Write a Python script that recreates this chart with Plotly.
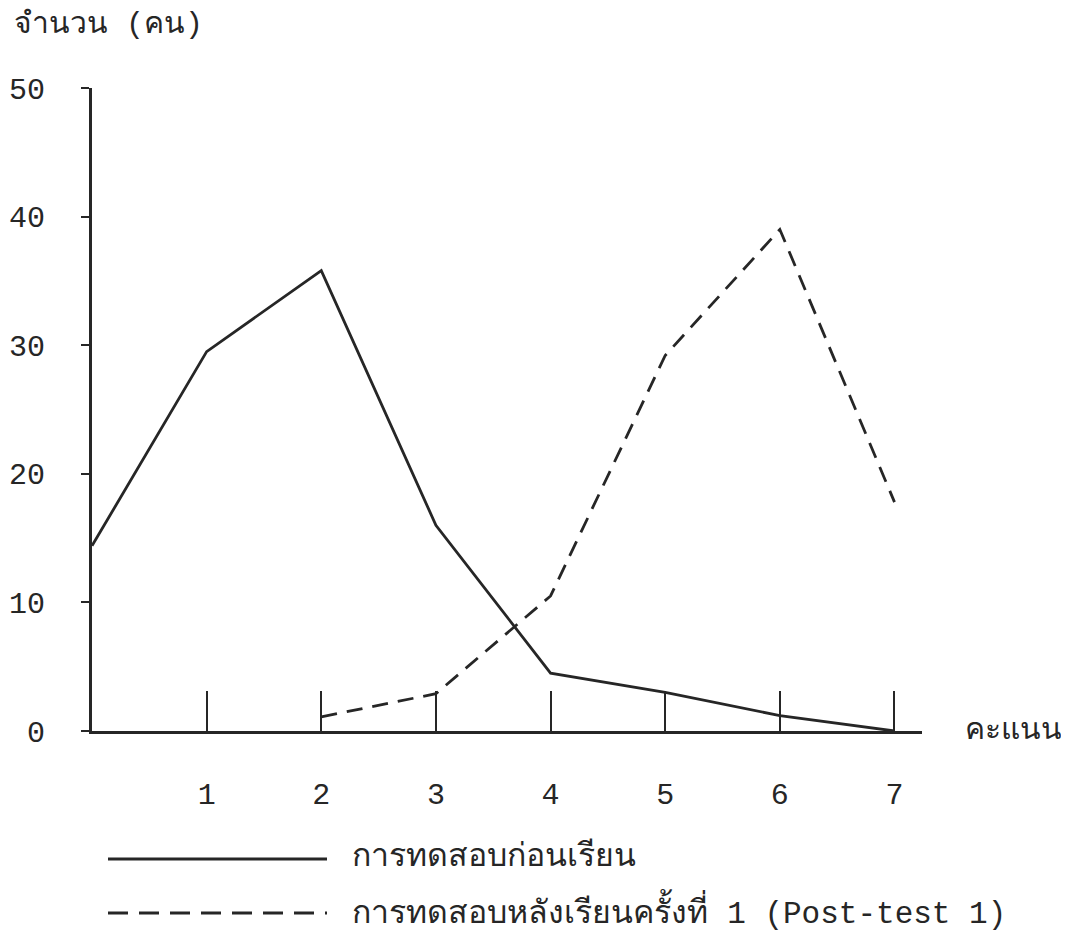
import plotly.graph_objects as go

scores = [0, 1, 2, 3, 4, 5, 6, 7]
pretest = [14.4, 29.5, 35.8, 16.0, 4.5, 3.0, 1.2, 0.0]
post_x = [2, 3, 4, 5, 6, 7]
posttest1 = [1.1, 2.9, 10.5, 29.2, 39.0, 17.8]
x_ticks = [1, 2, 3, 4, 5, 6, 7]
y_ticks = [0, 10, 20, 30, 40, 50]
name_pre = "การทดสอบก่อนเรียน"
name_post_th = "การทดสอบหลังเรียนครั้งที่"
name_post_en = "1 (Post-test 1)"
y_title_th = "จำนวน"
y_title_en = "(คน)"
x_title = "คะแนน"

INK = "#262626"
FONT = "Liberation Mono, Noto Sans, DejaVu Sans Mono, monospace"
OFF = 8  # page body margin

fig = go.Figure()
fig.add_trace(go.Scatter(x=scores, y=pretest, mode="lines", name=name_pre,
                         line=dict(color=INK, width=2.8)))
fig.add_trace(go.Scatter(x=post_x, y=posttest1, mode="lines", name=name_post_th,
                         line=dict(color=INK, width=2.8, dash="16px,10px")))

W, H = 1069 - OFF, 941 - OFF
L, R, T, B = 92 - OFF, 147, 88 - OFF, 210
fig.update_layout(
    width=W, height=H, margin=dict(l=L, r=R, t=T, b=B, autoexpand=False),
    paper_bgcolor="white", plot_bgcolor="white", showlegend=False,
    font=dict(family=FONT, size=30, color=INK),
)
fig.update_xaxes(range=[0, 7.24], tickvals=x_ticks, ticktext=[str(v) for v in x_ticks],
                 ticks="inside", ticklen=40, tickwidth=2, tickcolor=INK,
                 showline=True, linecolor=INK, linewidth=2.8, showgrid=False,
                 zeroline=False, ticklabelstandoff=34, tickfont=dict(size=30),
                 automargin=False)
fig.update_yaxes(range=[0, 50], tickvals=y_ticks, ticktext=[str(v) for v in y_ticks],
                 ticks="outside", ticklen=8, tickwidth=2, tickcolor=INK,
                 showline=True, linecolor=INK, linewidth=2.8, showgrid=False,
                 zeroline=False, ticklabelstandoff=30, tickfont=dict(size=30),
                 automargin=False)

pw, ph = W - L - R, H - T - B
def px(xp):
    return (xp - OFF - L) / pw
def py(yp):
    return (H - B - (yp - OFF)) / ph

# axis titles
fig.add_annotation(text=y_title_th + " " + y_title_en, xref="paper", yref="paper", x=px(12), y=py(25),
                   xanchor="left", yanchor="middle", showarrow=False, font=dict(size=30))
fig.add_annotation(text=x_title, xref="paper", yref="y", x=px(963), y=0,
                   xanchor="left", yanchor="middle", showarrow=False, font=dict(size=30))

# legend (drawn manually below plot)
fig.add_shape(type="line", xref="paper", yref="paper", x0=px(108), x1=px(327), y0=py(859), y1=py(859),
              line=dict(color=INK, width=2.8))
fig.add_shape(type="line", xref="paper", yref="paper", x0=px(108), x1=px(327), y0=py(913), y1=py(913),
              line=dict(color=INK, width=2.8, dash="20px,11px"))
fig.add_annotation(text=name_pre, xref="paper", yref="paper", x=px(350), y=py(857),
                   xanchor="left", yanchor="middle", showarrow=False, font=dict(size=32))
fig.add_annotation(text=name_post_th + " <span style='font-size:31px'>" + name_post_en + "</span>",
                   xref="paper", yref="paper", x=px(350), y=py(911),
                   xanchor="left", yanchor="middle", showarrow=False, font=dict(size=32))

fig.write_html("out.html")
